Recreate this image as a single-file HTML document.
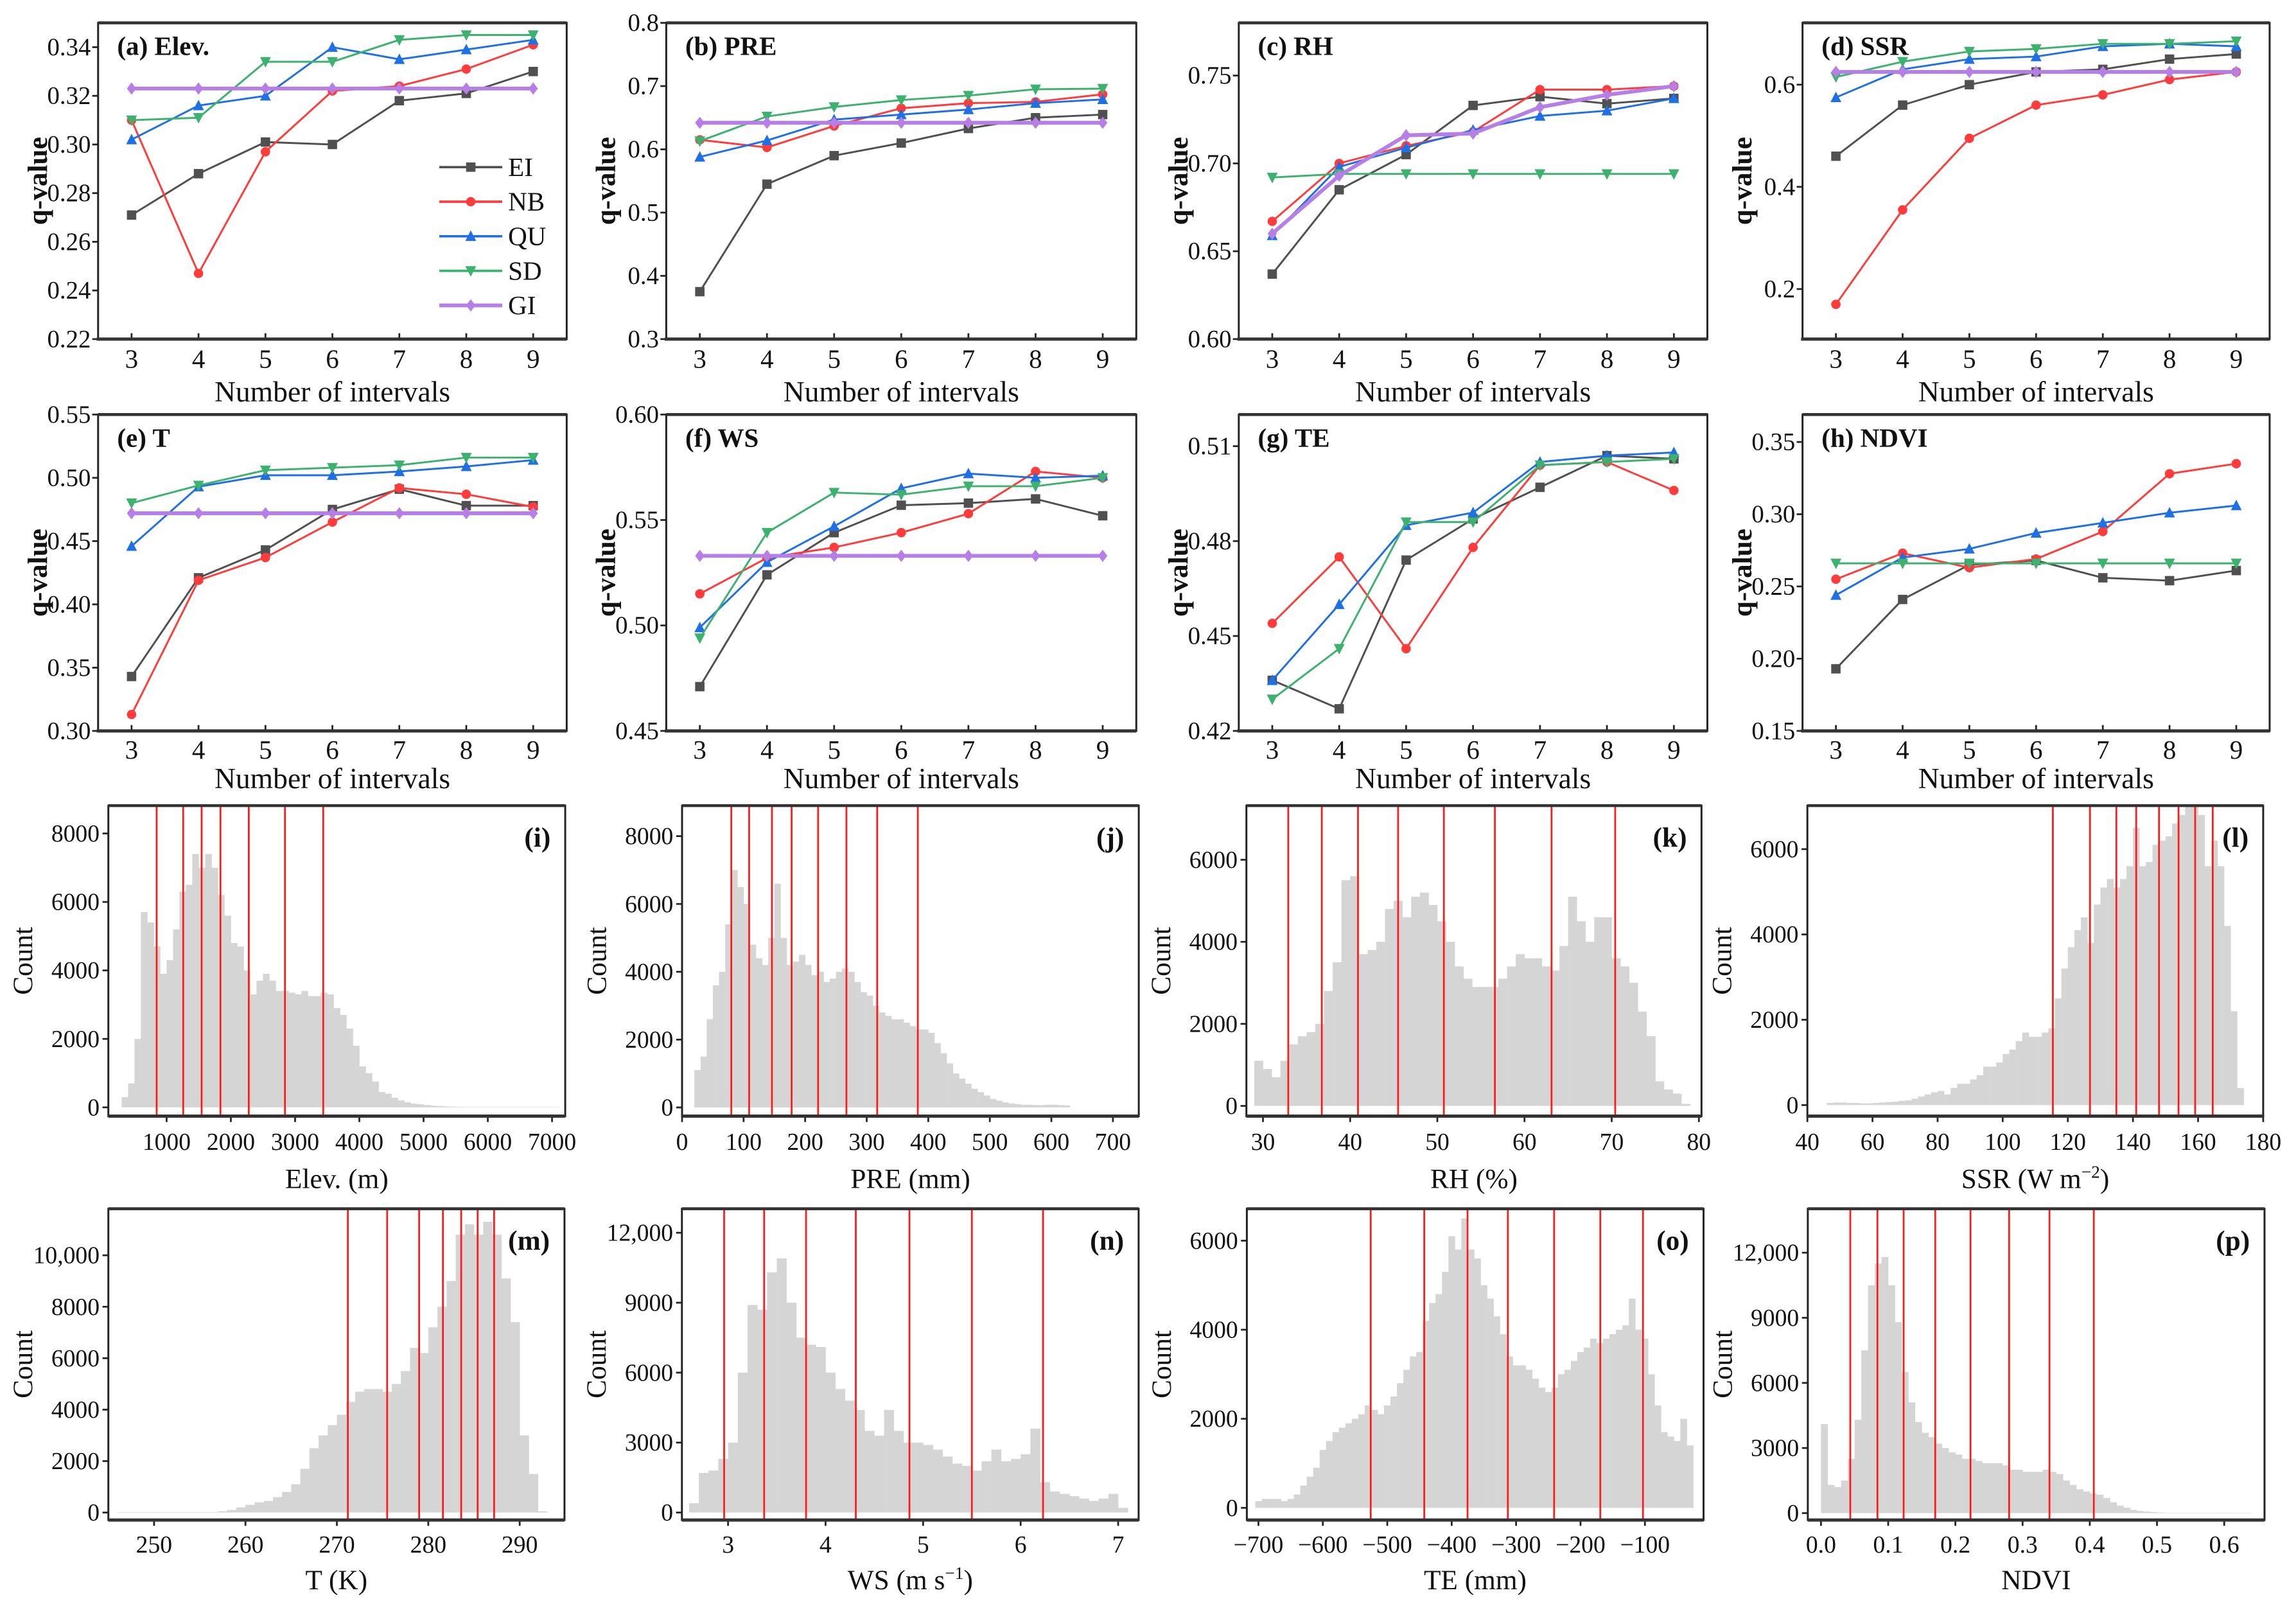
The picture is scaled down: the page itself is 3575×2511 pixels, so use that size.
<!DOCTYPE html>
<html><head><meta charset="utf-8"><title>q-value and histogram figure</title>
<style>
html,body{margin:0;padding:0;background:#fff;}
svg, svg text{font-family:"Liberation Serif","DejaVu Serif",serif;}
</style></head>
<body>
<svg id="fig" xmlns="http://www.w3.org/2000/svg" width="3575" height="2506" viewBox="0 0 1568 1099" preserveAspectRatio="none" font-family="Liberation Serif, DejaVu Serif, serif">
<rect x="0" y="0" width="1568" height="1099" fill="#fff"/>
</svg>
<script>
// ---------- line chart data ----------
const intervals = [3,4,5,6,7,8,9];
const seriesNames = ['EI','NB','QU','SD','GI'];

const elevEI = [0.271,0.288,0.301,0.300,0.318,0.321,0.330];
const elevNB = [0.310,0.247,0.297,0.322,0.324,0.331,0.341];
const elevQU = [0.302,0.316,0.320,0.340,0.335,0.339,0.343];
const elevSD = [0.310,0.311,0.334,0.334,0.343,0.345,0.345];
const elevGI = [0.323,0.323,0.323,0.323,0.323,0.323,0.323];
const elevTicks = ['0.22','0.24','0.26','0.28','0.30','0.32','0.34'];

const preEI = [0.375,0.545,0.590,0.610,0.633,0.650,0.655];
const preNB = [0.615,0.603,0.637,0.665,0.673,0.675,0.687];
const preQU = [0.588,0.614,0.647,0.655,0.663,0.673,0.679];
const preSD = [0.613,0.652,0.667,0.678,0.685,0.695,0.696];
const preGI = [0.642,0.642,0.642,0.642,0.642,0.642,0.642];
const preTicks = ['0.3','0.4','0.5','0.6','0.7','0.8'];

const rhEI = [0.637,0.685,0.705,0.733,0.738,0.734,0.737];
const rhNB = [0.667,0.700,0.710,0.718,0.742,0.742,0.744];
const rhQU = [0.659,0.698,0.709,0.719,0.727,0.730,0.737];
const rhSD = [0.692,0.694,0.694,0.694,0.694,0.694,0.694];
const rhGI = [0.660,0.693,0.716,0.717,0.732,0.739,0.744];
const rhTicks = ['0.60','0.65','0.70','0.75'];

const ssrEI = [0.460,0.560,0.600,0.625,0.630,0.650,0.660];
const ssrNB = [0.170,0.355,0.495,0.560,0.580,0.610,0.625];
const ssrQU = [0.575,0.630,0.650,0.655,0.675,0.680,0.675];
const ssrSD = [0.615,0.645,0.665,0.670,0.680,0.680,0.685];
const ssrGI = [0.625,0.625,0.625,0.625,0.625,0.625,0.625];
const ssrTicks = ['0.2','0.4','0.6'];

const tEI = [0.343,0.421,0.443,0.475,0.491,0.478,0.478];
const tNB = [0.313,0.419,0.437,0.465,0.492,0.487,0.477];
const tQU = [0.446,0.493,0.502,0.502,0.505,0.509,0.514];
const tSD = [0.480,0.494,0.506,0.508,0.510,0.516,0.516];
const tGI = [0.472,0.472,0.472,0.472,0.472,0.472,0.472];
const tTicks = ['0.30','0.35','0.40','0.45','0.50','0.55'];

const wsEI = [0.471,0.524,0.544,0.557,0.558,0.560,0.552];
const wsNB = [0.515,0.532,0.537,0.544,0.553,0.573,0.570];
const wsQU = [0.499,0.530,0.547,0.565,0.572,0.570,0.571];
const wsSD = [0.494,0.544,0.563,0.562,0.566,0.566,0.570];
const wsGI = [0.533,0.533,0.533,0.533,0.533,0.533,0.533];
const wsTicks = ['0.45','0.50','0.55','0.60'];

const teEI = [0.436,0.427,0.474,0.487,0.497,0.507,0.506];
const teNB = [0.454,0.475,0.446,0.478,0.504,0.505,0.496];
const teQU = [0.436,0.460,0.485,0.489,0.505,0.507,0.508];
const teSD = [0.430,0.446,0.486,0.486,0.504,0.505,0.506];
const teTicks = ['0.42','0.45','0.48','0.51'];

const ndviEI = [0.193,0.241,0.265,0.268,0.256,0.254,0.261];
const ndviNB = [0.255,0.273,0.263,0.269,0.288,0.328,0.335];
const ndviQU = [0.244,0.270,0.276,0.287,0.294,0.301,0.306];
const ndviSD = [0.266,0.266,0.266,0.266,0.266,0.266,0.266];
const ndviTicks = ['0.15','0.20','0.25','0.30','0.35'];

// ---------- histogram data ----------
const elevBinStart = 300, elevBinWidth = 100;
const elevCounts = [300,700,2000,5700,5400,4700,3900,4300,5200,6300,6500,7400,7000,7400,7000,6200,5600,4800,4700,4000,3300,3700,3900,3700,3400,3400,3350,3300,3400,3250,3250,3350,3300,2900,2700,2300,1800,1200,1000,750,450,400,280,200,150,110,90,70,50,40,30,20,15,10,10,10,10,10,10,10,10,10,10,10,10,10,10,10];
const elevBreaks = [845,1258,1545,1838,2279,2842,3438];
const elevYTicks = ['0','2000','4000','6000','8000'];
const elevXTicks = ['1000','2000','3000','4000','5000','6000','7000'];

const preBinStart = 20, preBinWidth = 10;
const preCounts = [1100,1500,2600,3600,4000,5400,7000,6500,6000,4800,4400,4200,5000,6600,5000,4200,4300,4500,4200,3900,4000,3700,3800,4000,4100,4000,3700,3400,3300,3000,2800,2700,2600,2600,2500,2400,2300,2300,2200,1900,1600,1300,1000,850,700,550,450,350,250,200,150,120,100,80,80,70,70,80,80,70,60];
const preBreaks = [80,109,146,178,221,267,317,383];
const preYTicks = ['0','2000','4000','6000','8000'];
const preXTicks = ['0','100','200','300','400','500','600','700'];

const rhBinStart = 29, rhBinWidth = 1;
const rhCounts = [1100,900,700,1100,1500,1700,1800,2000,2800,3500,5500,5600,3700,3800,4000,4800,5000,4600,5100,5200,4900,4500,4000,3400,3100,2900,2900,2900,3100,3400,3700,3600,3600,3400,3300,3900,5100,4500,4000,4600,4600,3600,3400,3000,2300,1700,600,400,300,50];
const rhBreaks = [32.9,36.75,40.9,45.5,50.75,56.6,63.1,70.4];
const rhYTicks = ['0','2000','4000','6000'];
const rhXTicks = ['30','40','50','60','70','80'];

const ssrBinStart = 46, ssrBinWidth = 2;
const ssrCounts = [50,60,60,50,50,40,40,50,60,70,80,100,110,150,200,250,300,330,250,400,500,500,600,700,900,900,1000,1200,1300,1500,1700,1600,1600,1700,1800,2500,3200,3700,4100,4400,3800,4700,5100,5300,5100,5300,5600,6500,5600,5700,6100,6200,6300,6600,6800,7000,7000,6800,5600,6200,5600,4200,2200,400];
const ssrBreaks = [115.4,126.8,134.9,141,148,154,159.1,164.5];
const ssrYTicks = ['0','2000','4000','6000'];
const ssrXTicks = ['40','60','80','100','120','140','160','180'];

const tBinStart = 246, tBinWidth = 1;
const tCounts = [20,20,20,20,20,20,20,20,20,20,20,50,100,200,300,400,450,600,800,1100,1700,2500,3000,3400,3800,4300,4700,4800,4800,4700,5000,5500,6400,6200,7200,8000,9000,10800,11200,10800,11300,10800,9100,7400,3000,1500,50];
const tBreaks = [271.2,275.5,279.0,281.6,283.6,285.4,287.2];
const tYTicks = ['0','2000','4000','6000','8000','10,000'];
const tXTicks = ['250','260','270','280','290'];

const wsBinStart = 2.6, wsBinWidth = 0.1;
const wsCounts = [400,1700,1800,2300,3000,6000,8900,8700,10300,10900,9000,7500,7200,7100,6000,5300,4800,4400,3500,3300,4400,3500,3000,3000,2900,2700,2400,2100,2000,1800,2200,2700,2200,2300,2500,3600,1300,900,800,700,600,500,600,800,200];
const wsBreaks = [2.96,3.37,3.80,4.31,4.86,5.50,6.23];
const wsYTicks = ['0','3000','6000','9000','12,000'];
const wsXTicks = ['3','4','5','6','7'];

const teBinStart = -705, teBinWidth = 10;
const teCounts = [150,200,200,200,150,200,300,500,700,900,1300,1500,1700,1800,1900,2000,2100,2300,2200,2100,2300,2500,2800,3100,3400,3500,4200,4600,4800,5300,6100,5800,6500,5800,5600,5000,4700,4300,3900,3400,3200,3200,3100,2900,2700,2600,2700,3000,3100,3300,3500,3600,3800,3700,3800,3900,4000,4100,4700,4000,3800,3000,2300,1700,1600,1500,2000,1400];
const teBreaks = [-525.7,-442.6,-375.4,-312.8,-241,-169.3,-103];
const teYTicks = ['0','2000','4000','6000'];
const teXTicks = ['−700','−600','−500','−400','−300','−200','−100'];

const ndviBinStart = 0.0, ndviBinWidth = 0.01;
const ndviCounts = [4100,1300,1200,1500,2500,4300,7500,10500,11500,11800,10500,8800,6500,5100,4200,3700,3500,3200,3000,2800,2700,2500,2500,2400,2300,2300,2300,2200,2000,2000,1900,1900,1900,2000,1900,1800,1500,1300,1100,1000,900,850,700,500,350,250,150,100,70,50,30,15,15,15,15,15,15,15,15,15,15,15,15,15];
const ndviBreaks = [0.0436,0.084,0.123,0.170,0.2225,0.280,0.340,0.406];
const ndviYTicks = ['0','3000','6000','9000','12,000'];
const ndviXTicks = ['0.0','0.1','0.2','0.3','0.4','0.5','0.6'];

// ---------- rendering ----------
const NS = 'http://www.w3.org/2000/svg';
const FONT = 'Liberation Serif, DejaVu Serif, serif';
const svg = document.getElementById('fig');
function mk(tag, attrs, parent){
  const e = document.createElementNS(NS, tag);
  for (const k in attrs) e.setAttribute(k, attrs[k]);
  (parent || svg).appendChild(e);
  return e;
}
function txt(str, attrs, parent){
  const e = mk('text', attrs, parent);
  e.setAttribute('font-family', FONT);
  e.textContent = str;
  return e;
}
function num(s){ return parseFloat(String(s).replace(/,/g,'').replace('−','-')); }

const colors = {EI:'#505050', NB:'#ff3b3b', QU:'#1f6fe5', SD:'#3cb26e', GI:'#b57fe6'};
const colsX = [[67,387],[455,776],[846,1166],[1231,1550]];

function marker(type, x, y, color, parent){
  const s = 3.2;
  let e;
  if (type === 'EI') e = mk('rect',{x:x-s,y:y-s,width:2*s,height:2*s,fill:color},parent);
  else if (type === 'NB') e = mk('circle',{cx:x,cy:y,r:s,fill:color},parent);
  else if (type === 'QU') e = mk('polygon',{points:`${x},${y-s-0.8} ${x-s-0.5},${y+s} ${x+s+0.5},${y+s}`,fill:color},parent);
  else if (type === 'SD') e = mk('polygon',{points:`${x},${y+s+0.8} ${x-s-0.5},${y-s} ${x+s+0.5},${y-s}`,fill:color},parent);
  else e = mk('polygon',{points:`${x},${y-s-1} ${x-s},${y} ${x},${y+s+1} ${x+s},${y}`,fill:color},parent);
  return e;
}

const linePanels = [
  {key:'elev', label:'(a) Elev.', col:0, row:0, ymin:0.22, ymax:0.350, ticks:elevTicks, series:[elevEI,elevNB,elevQU,elevSD,elevGI], legend:true},
  {key:'pre', label:'(b) PRE', col:1, row:0, ymin:0.3, ymax:0.8, ticks:preTicks, series:[preEI,preNB,preQU,preSD,preGI]},
  {key:'rh', label:'(c) RH', col:2, row:0, ymin:0.60, ymax:0.780, ticks:rhTicks, series:[rhEI,rhNB,rhQU,rhSD,rhGI]},
  {key:'ssr', label:'(d) SSR', col:3, row:0, ymin:0.102, ymax:0.721, ticks:ssrTicks, series:[ssrEI,ssrNB,ssrQU,ssrSD,ssrGI]},
  {key:'t', label:'(e) T', col:0, row:1, ymin:0.30, ymax:0.55, ticks:tTicks, series:[tEI,tNB,tQU,tSD,tGI]},
  {key:'ws', label:'(f) WS', col:1, row:1, ymin:0.45, ymax:0.60, ticks:wsTicks, series:[wsEI,wsNB,wsQU,wsSD,wsGI]},
  {key:'te', label:'(g) TE', col:2, row:1, ymin:0.42, ymax:0.52, ticks:teTicks, series:[teEI,teNB,teQU,teSD,null]},
  {key:'ndvi', label:'(h) NDVI', col:3, row:1, ymin:0.15, ymax:0.369, ticks:ndviTicks, series:[ndviEI,ndviNB,ndviQU,ndviSD,null]}
];
const lineRows = [{y0:15.6,y1:231.5,tickBase:251,titleBase:274},{y0:283,y1:499,tickBase:518,titleBase:538}];

linePanels.forEach(p => {
  const [x0,x1] = colsX[p.col];
  const R = lineRows[p.row];
  const y0 = R.y0, y1 = R.y1;
  const sx = v => x0 + (v - 2.5) / 7 * (x1 - x0);
  const sy = v => y1 - (v - p.ymin) / (p.ymax - p.ymin) * (y1 - y0);
  const g = mk('g', {});
  
  

  const clipId = 'clip-' + p.key;
  const cp = mk('clipPath', {id:clipId}, g);
  mk('rect', {x:x0, y:y0, width:x1-x0, height:y1-y0}, cp);

  p.ticks.forEach(lbl => {
    const y = sy(num(lbl));
    const tk = mk('line', {x1:x0-4, x2:x0, y1:y, y2:y, stroke:'#222', 'stroke-width':1.2}, g);
    
    
    const t = txt(lbl, {x:x0-5, y:y+5.5, 'text-anchor':'end', 'font-size':17, fill:'#111'}, g);
    
    
  });
  intervals.forEach(v => {
    const x = sx(v);
    const tk = mk('line', {x1:x, x2:x, y1:y1, y2:y1-4, stroke:'#222', 'stroke-width':1.2}, g);
    
    
    const t = txt(String(v), {x:x, y:R.tickBase, 'text-anchor':'middle', 'font-size':18, fill:'#111'}, g);
    
    
  });

  const sg = mk('g', {'clip-path':`url(#${clipId})`}, g);
  
  
  p.series.forEach((vals, i) => {
    if (!vals) return;
    const name = seriesNames[i];
    const col = colors[name];
    const pts = intervals.map((v, j) => `${sx(v)},${sy(vals[j])}`).join(' ');
    const pl = mk('polyline', {points:pts, fill:'none', stroke:col, 'stroke-width': name === 'GI' ? 2.6 : 1.3, 'stroke-linejoin':'round'}, sg);
    
    
    intervals.forEach((v, j) => {
      const m = marker(name, sx(v), sy(vals[j]), col, sg);
      
      
    });
  });

  const fr = mk('rect', {x:x0, y:y0, width:x1-x0, height:y1-y0, fill:'none', stroke:'#222', 'stroke-width':1.3}, g);
  
  
  const tb = mk('line', {x1:x0, x2:x1, y1:y0, y2:y0, stroke:'#333', 'stroke-width':2}, g);
  
  
  const bx = mk('line', {x1:x0-1, x2:x1, y1:y1, y2:y1, stroke:'#333', 'stroke-width':2.2}, g);
  
  

  const pl = txt(p.label, {x:x0+13, y:y0+22, 'font-size':18, 'font-weight':'bold', fill:'#111'}, g);
  
  
  const cy = (y0 + y1) / 2;
  const yt = txt('q-value', {x:0, y:0, 'font-size':19, 'font-weight':'bold', 'text-anchor':'middle', fill:'#111', transform:`translate(${x0-35},${cy}) rotate(-90)`}, g);
  
  
  const xt = txt('Number of intervals', {x:(x0+x1)/2, y:R.titleBase, 'font-size':20, 'text-anchor':'middle', fill:'#111'}, g);
  
  

  if (p.legend) {
    const lg = mk('g', {}, g);
    
    
    seriesNames.forEach((name, i) => {
      const ly = y0 + 98.5 + 23.6 * i;
      const col = colors[name];
      const ln = mk('line', {x1:x0+233, x2:x0+276, y1:ly, y2:ly, stroke:col, 'stroke-width': name === 'GI' ? 2.6 : 1.6}, lg);
      
      
      const m = marker(name, x0+254.5, ly, col, lg);
      
      
      const lt = txt(name, {x:x0+280, y:ly+6, 'font-size':18, fill:'#111'}, lg);
      
      
    });
  }
});

const histPanels = [
  {key:'elev', label:'(i)', col:0, row:0, x0:74, x1:386, xmin:93, xmax:7205, ymin:-257, ymax:8813, start:elevBinStart, width:elevBinWidth, counts:elevCounts, breaks:elevBreaks, yTicks:elevYTicks, xTicks:elevXTicks, title:['Elev. (m)']},
  {key:'pre', label:'(j)', col:1, row:0, x0:465.8, x1:777.7, xmin:0, xmax:742, ymin:-257, ymax:8900, start:preBinStart, width:preBinWidth, counts:preCounts, breaks:preBreaks, yTicks:preYTicks, xTicks:preXTicks, title:['PRE (mm)']},
  {key:'rh', label:'(k)', col:2, row:0, x0:851.2, x1:1162, xmin:28.1, xmax:80.3, ymin:-250, ymax:7320, start:rhBinStart, width:rhBinWidth, counts:rhCounts, breaks:rhBreaks, yTicks:rhYTicks, xTicks:rhXTicks, title:['RH (%)']},
  {key:'ssr', label:'(l)', col:3, row:0, x0:1234.3, x1:1545.6, xmin:40, xmax:180, ymin:-260, ymax:7020, start:ssrBinStart, width:ssrBinWidth, counts:ssrCounts, breaks:ssrBreaks, yTicks:ssrYTicks, xTicks:ssrXTicks, title:['SSR (W m','−2',')']},
  {key:'t', label:'(m)', col:0, row:1, x0:74, x1:385.5, xmin:245.0, xmax:294.9, ymin:-290, ymax:11810, start:tBinStart, width:tBinWidth, counts:tCounts, breaks:tBreaks, yTicks:tYTicks, xTicks:tXTicks, title:['T (K)']},
  {key:'ws', label:'(n)', col:1, row:1, x0:465.7, x1:777.6, xmin:2.527, xmax:7.21, ymin:-320, ymax:13030, start:wsBinStart, width:wsBinWidth, counts:wsCounts, breaks:wsBreaks, yTicks:wsYTicks, xTicks:wsXTicks, title:['WS (m s','−1',')']},
  {key:'te', label:'(o)', col:2, row:1, x0:851.5, x1:1163.4, xmin:-718, xmax:-9, ymin:-273, ymax:6717, start:teBinStart, width:teBinWidth, counts:teCounts, breaks:teBreaks, yTicks:teYTicks, xTicks:teXTicks, title:['TE (mm)']},
  {key:'ndvi', label:'(p)', col:3, row:1, x0:1234.6, x1:1546.5, xmin:-0.0196, xmax:0.66, ymin:-317, ymax:14025, start:ndviBinStart, width:ndviBinWidth, counts:ndviCounts, breaks:ndviBreaks, yTicks:ndviYTicks, xTicks:ndviXTicks, title:['NDVI']}
];
const histRows = [{y0:550,y1:762,tickBase:785,titleBase:811},{y0:825.2,y1:1037.7,tickBase:1060,titleBase:1085}];

histPanels.forEach(p => {
  const R = histRows[p.row];
  const x0 = p.x0, x1 = p.x1, y0 = R.y0, y1 = R.y1;
  const sx = v => x0 + (v - p.xmin) / (p.xmax - p.xmin) * (x1 - x0);
  const sy = v => y1 - (v - p.ymin) / (p.ymax - p.ymin) * (y1 - y0);
  const g = mk('g', {});
  
  
  const clipId = 'hclip-' + p.key;
  const cp = mk('clipPath', {id:clipId}, g);
  mk('rect', {x:x0, y:y0, width:x1-x0, height:y1-y0}, cp);

  const bg = mk('g', {'clip-path':`url(#${clipId})`}, g);
  
  
  const base = sy(0);
  p.counts.forEach((c, i) => {
    const a = p.start + i * p.width;
    const xa = sx(a), xb = sx(a + p.width);
    const yt = sy(c);
    const r = mk('rect', {x:xa, y:yt, width:Math.max(0.3, xb - xa + 0.15), height:Math.max(0, base - yt), fill:'#d5d5d5'}, bg);
    
    
  });
  p.breaks.forEach(b => {
    const x = sx(b);
    const l = mk('line', {x1:x, x2:x, y1:y0, y2:y1, stroke:'#ff1a1a', 'stroke-width':1.2}, bg);
    
    
  });

  p.yTicks.forEach(lbl => {
    const y = sy(num(lbl));
    const tk = mk('line', {x1:x0-4, x2:x0, y1:y, y2:y, stroke:'#222', 'stroke-width':1.2}, g);
    
    
    const t = txt(lbl, {x:x0-6, y:y+5.5, 'text-anchor':'end', 'font-size':16.5, fill:'#111'}, g);
    
    
  });
  p.xTicks.forEach(lbl => {
    const x = sx(num(lbl));
    const tk = mk('line', {x1:x, x2:x, y1:y1, y2:y1+4, stroke:'#222', 'stroke-width':1.2}, g);
    
    
    const t = txt(lbl, {x:x, y:R.tickBase, 'text-anchor':'middle', 'font-size':16.5, fill:'#111'}, g);
    
    
  });

  const fr = mk('rect', {x:x0, y:y0, width:x1-x0, height:y1-y0, fill:'none', stroke:'#222', 'stroke-width':1.3}, g);
  
  
  const tb = mk('line', {x1:x0, x2:x1, y1:y0, y2:y0, stroke:'#333', 'stroke-width':2}, g);
  
  
  const bx = mk('line', {x1:x0, x2:x1, y1:y1, y2:y1, stroke:'#333', 'stroke-width':2.2}, g);
  
  

  const pl = txt(p.label, {x:x1-10, y:y0+28, 'font-size':19, 'font-weight':'bold', 'text-anchor':'end', fill:'#111'}, g);
  
  
  const cy = (y0 + y1) / 2;
  const yt = txt('Count', {x:0, y:0, 'font-size':19, 'text-anchor':'middle', fill:'#111', transform:`translate(${x0-52},${cy}) rotate(-90)`}, g);
  
  
  const xt = mk('text', {x:(x0+x1)/2, y:R.titleBase, 'font-size':19, 'text-anchor':'middle', fill:'#111', 'font-family':FONT}, g);
  
  
  if (p.title.length === 1) {
    xt.textContent = p.title[0];
  } else {
    const t1 = mk('tspan', {}, xt); t1.textContent = p.title[0];
    const t2 = mk('tspan', {dy:-7, 'font-size':12}, xt); t2.textContent = p.title[1];
    const t3 = mk('tspan', {dy:7}, xt); t3.textContent = p.title[2];
  }
});
</script>
</body></html>
